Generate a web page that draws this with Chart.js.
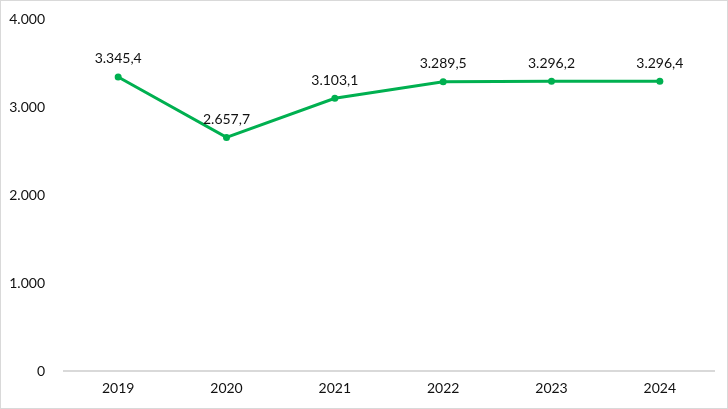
<!DOCTYPE html>
<html>
<head>
<meta charset="utf-8">
<script src="https://cdn.jsdelivr.net/npm/chart.js@4/dist/chart.umd.min.js"></script>
<style>
  html, body { margin: 0; padding: 0; background: #fff; }
  #wrap { width: 728px; height: 409px; position: relative; }
</style>
</head>
<body>
<div id="wrap"><canvas id="myChart"></canvas></div>
<script>
var years = ['2019', '2020', '2021', '2022', '2023', '2024'];
var values = [3345.4, 2657.7, 3103.1, 3289.5, 3296.2, 3296.4];
var yTicks = [0, 1000, 2000, 3000, 4000];

var lineColor = '#00b050';
var textColor = '#111';
var fontFamily = 'Lato, "Open Sans", sans-serif';

// 3296.4 -> "3.296,4"
var fmt = function (v, dec) {
  var s = v.toFixed(dec);
  var parts = s.split('.');
  var intPart = parts[0].replace(/\B(?=(\d{3})+(?!\d))/g, '.');
  return dec > 0 ? intPart + ',' + parts[1] : intPart;
};

// value labels above each point
var pointLabels = {
  id: 'pointLabels',
  afterDatasetsDraw: function (chart) {
    var ctx = chart.ctx;
    var meta = chart.getDatasetMeta(0);
    ctx.save();
    ctx.font = '14px ' + fontFamily;
    ctx.fillStyle = textColor;
    ctx.textAlign = 'center';
    ctx.textBaseline = 'middle';
    meta.data.forEach(function (pt, i) {
      ctx.fillText(fmt(values[i], 1), pt.x, pt.y - 18);
    });
    ctx.restore();
  }
};

var frame = {
  id: 'frame',
  afterDraw: function (chart) {
    var ctx = chart.ctx;
    ctx.save();
    ctx.strokeStyle = '#d9d9d9';
    ctx.lineWidth = 1;
    ctx.strokeRect(0.5, 0.5, chart.width - 1, chart.height - 1);
    ctx.restore();
  }
};

var canvas = document.getElementById('myChart');
new Chart(canvas, {
  type: 'line',
  data: {
    labels: years,
    datasets: [{
      data: values,
      borderColor: lineColor,
      backgroundColor: lineColor,
      borderWidth: 3,
      pointRadius: 3.5,
      pointBorderWidth: 0,
      tension: 0
    }]
  },
  options: {
    responsive: true,
    maintainAspectRatio: false,
    animation: false,
    layout: { padding: { left: 0, top: 8, right: 14, bottom: 0 } },
    plugins: {
      legend: { display: false },
      tooltip: { enabled: false }
    },
    scales: {
      x: {
        offset: true,
        grid: { display: false },
        border: { display: true, color: '#d9d9d9', width: 2 },
        ticks: {
          color: textColor,
          font: { family: fontFamily, size: 14 },
          padding: 1,
          maxRotation: 0
        },
        afterFit: function (s) { s.height = 38; }
      },
      y: {
        min: 0,
        max: 4000,
        grid: { display: false },
        border: { display: false },
        afterBuildTicks: function (s) {
          s.ticks = yTicks.map(function (v) { return { value: v }; });
        },
        ticks: {
          color: textColor,
          font: { family: fontFamily, size: 14 },
          padding: 11,
          callback: function (v) { return fmt(v, 0); }
        },
        afterFit: function (s) { s.width = 64; }
      }
    }
  },
  plugins: [pointLabels, frame]
});
</script>
</body>
</html>
